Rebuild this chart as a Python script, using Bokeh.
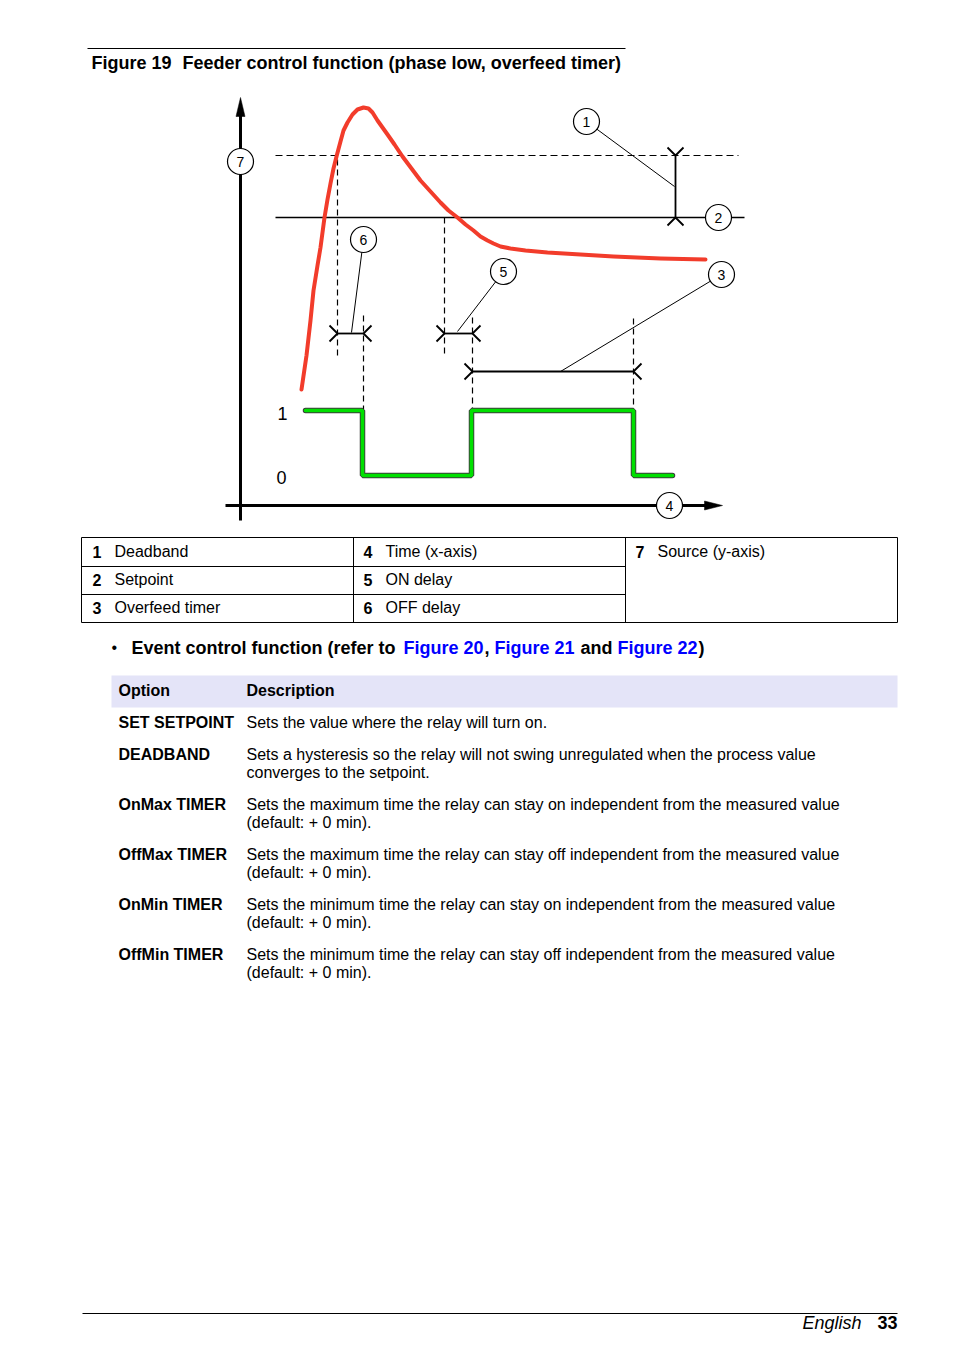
from bokeh.plotting import figure
from bokeh.models import Range1d
from bokeh.core.properties import value
from bokeh.embed import file_html
from bokeh.resources import INLINE

FONT = "Liberation Sans"

# ---------------- diagram data (page pixel coordinates) ----------------
# process value (red curve)
pv_x = [301, 306, 310, 313, 317, 320, 324, 327, 330, 333, 336, 340, 343, 347, 352, 357, 363,
        368, 372, 377, 382, 387, 394, 402, 411, 420, 430, 440, 448, 457, 465, 473, 480, 487,
        493, 500, 510, 525, 547, 580, 613, 660, 705]
pv_y = [389, 355, 320, 290, 265, 247, 217, 199, 183, 168, 156, 141, 130, 122, 114, 109, 107,
        108, 112, 120, 127, 134, 144, 156, 168, 180, 191, 202, 210, 217, 224, 230, 236, 240,
        243, 246, 248, 250, 252, 254, 256, 258, 259]
# relay state (green)
relay_x = [305, 362, 362, 471, 471, 633, 633, 672]
relay_y = [410, 410, 475, 475, 410, 410, 475, 475]
relay_levels = ["1", "0"]
relay_level_x = [277, 276]
relay_level_y = [413, 477]

# reference lines
deadband_line = (275, 738, 155)
setpoint_line = (275, 744, 217)
# vertical dashed guides (x, y0, y1)
guide_x = [337, 363, 444, 472, 633]
guide_y0 = [159, 315, 217, 317, 318]
guide_y1 = [358, 410, 355, 410, 410]
# horizontal dimensions (x0, x1, y): OFF delay, ON delay, overfeed timer
dim_x0 = [337, 444, 472]
dim_x1 = [363, 472, 633]
dim_y = [333, 333, 371]
# vertical deadband dimension (x, y0, y1)
vdim = (675, 155, 217)

# callouts
callout_num = ["1", "2", "3", "4", "5", "6", "7"]
callout_x = [586, 718, 721, 669, 503, 363, 240]
callout_y = [121, 217, 274, 505, 271, 239, 161]
leader_from = ["1", "3", "5", "6"]
leader_to_x = [674, 560, 457, 351]
leader_to_y = [186, 371, 331, 332]

# axes
y_axis = (240, 114, 520)
x_axis = (225, 705, 505)

# ---------------- text data ----------------
title_parts = ["Figure 19", "Feeder control function (phase low, overfeed timer)"]
title_x = [91, 182]

legend_nums = ["1", "2", "3", "4", "5", "6", "7"]
legend_labels = ["Deadband", "Setpoint", "Overfeed timer", "Time (x-axis)", "ON delay",
                 "OFF delay", "Source (y-axis)"]
legend_x = [92, 92, 92, 363, 363, 363, 635]
legend_y = [551, 579, 607, 551, 579, 607, 551]

event_parts = ["Event control function (refer to", "Figure 20", ",", "Figure 21", "and",
               "Figure 22", ")"]
event_x = [131, 403, 484, 494, 580, 617, 698]
event_color = ["black", "#0000ff", "black", "#0000ff", "black", "#0000ff", "black"]

options = ["SET SETPOINT", "DEADBAND", "OnMax TIMER", "OffMax TIMER", "OnMin TIMER",
           "OffMin TIMER"]
descriptions = [
    ["Sets the value where the relay will turn on."],
    ["Sets a hysteresis so the relay will not swing unregulated when the process value",
     "converges to the setpoint."],
    ["Sets the maximum time the relay can stay on independent from the measured value",
     "(default: + 0 min)."],
    ["Sets the maximum time the relay can stay off independent from the measured value",
     "(default: + 0 min)."],
    ["Sets the minimum time the relay can stay on independent from the measured value",
     "(default: + 0 min)."],
    ["Sets the minimum time the relay can stay off independent from the measured value",
     "(default: + 0 min)."],
]
option_y = [722, 754, 804, 854, 904, 954]

# ---------------- figure ----------------
p = figure(width=938, height=1338, x_range=Range1d(0, 938), y_range=Range1d(1338, 0),
           output_backend="svg", toolbar_location=None, min_border=0,
           x_axis_type=None, y_axis_type=None)
p.grid.visible = False
p.outline_line_color = None
p.background_fill_color = "white"
p.border_fill_color = "white"

def txt(x, y, t, size="16px", style="normal", align="left", color="black"):
    p.text(x=x, y=y, text=t, text_font=value(FONT), text_font_size=size,
           text_font_style=style, text_align=align, text_baseline="middle", text_color=color)

# title with rule
p.segment(x0=[87], y0=[48], x1=[625], y1=[48], line_color="black", line_width=1)
txt(title_x, [62, 62], title_parts, size="18px", style="bold")

# reference lines
p.segment(x0=[deadband_line[0]], y0=[deadband_line[2]], x1=[deadband_line[1]], y1=[deadband_line[2]],
          line_color="black", line_width=1.2, line_dash="7 4")
p.segment(x0=[setpoint_line[0]], y0=[setpoint_line[2]], x1=[setpoint_line[1]], y1=[setpoint_line[2]],
          line_color="black", line_width=1.3)
p.segment(x0=guide_x, y0=guide_y0, x1=guide_x, y1=guide_y1, line_color="black",
          line_width=1.2, line_dash="6 4")

# dimension lines
A = 8
p.segment(x0=dim_x0, y0=dim_y, x1=dim_x1, y1=dim_y, line_color="black", line_width=1.8)
arm_xs, arm_ys = [], []
for x0, x1, y in zip(dim_x0, dim_x1, dim_y):
    arm_xs.append([x0 - A, x0, x0 - A]); arm_ys.append([y - A, y, y + A])
    arm_xs.append([x1 + A, x1, x1 + A]); arm_ys.append([y - A, y, y + A])
vx, vy0, vy1 = vdim
p.segment(x0=[vx], y0=[vy0], x1=[vx], y1=[vy1], line_color="black", line_width=1.8)
arm_xs.append([vx - A, vx, vx + A]); arm_ys.append([vy0 - A, vy0, vy0 - A])
arm_xs.append([vx - A, vx, vx + A]); arm_ys.append([vy1 + A, vy1, vy1 + A])
p.multi_line(xs=arm_xs, ys=arm_ys, line_color="black", line_width=1.8)

# leaders
idx = [callout_num.index(n) for n in leader_from]
p.segment(x0=[callout_x[i] for i in idx], y0=[callout_y[i] for i in idx],
          x1=leader_to_x, y1=leader_to_y, line_color="black", line_width=1)

# axes
p.segment(x0=[y_axis[0]], y0=[y_axis[1]], x1=[y_axis[0]], y1=[y_axis[2]], line_color="black", line_width=3)
p.segment(x0=[x_axis[0]], y0=[x_axis[2]], x1=[x_axis[1]], y1=[x_axis[2]], line_color="black", line_width=3)
p.patches(xs=[[y_axis[0], y_axis[0] - 4.5, y_axis[0] + 4.5],
              [x_axis[1] + 17, x_axis[1] - 1, x_axis[1] - 1]],
          ys=[[y_axis[1] - 17, y_axis[1] + 2, y_axis[1] + 2],
              [x_axis[2], x_axis[2] - 4.5, x_axis[2] + 4.5]],
          fill_color="black", line_color="black", line_width=0.5)

# curves
p.line(pv_x, pv_y, line_color="#f23c2b", line_width=4, line_cap="round", line_join="round")
p.line(relay_x, relay_y, line_color="#3c3c3c", line_width=5.5, line_cap="round")
p.line(relay_x, relay_y, line_color="#00e000", line_width=3.6, line_cap="round")
txt(relay_level_x, relay_level_y, relay_levels, size="18px")

# callout circles
p.circle(x=callout_x, y=callout_y, radius=13, fill_color="white", line_color="black", line_width=1.2)
txt(callout_x, callout_y, callout_num, size="14px", align="center")

# legend table
TL, TR, TT, TB = 81, 897, 537, 622
C1, C2 = 353, 625
R1, R2 = 566, 594
p.multi_line(xs=[[TL, TR, TR, TL, TL], [C1, C1], [C2, C2], [TL, C2], [TL, C2]],
             ys=[[TT, TT, TB, TB, TT], [TT, TB], [TT, TB], [R1, R1], [R2, R2]],
             line_color="black", line_width=1)
txt(legend_x, legend_y, legend_nums, style="bold")
txt([x + 22 for x in legend_x], legend_y, legend_labels)

# event line
txt([111], [647], ["\u2022"], size="16px")
for part, x, c in zip(event_parts, event_x, event_color):
    txt([x], [647], [part], size="18px", style="bold", color=c)

# options table
p.quad(left=[111], right=[897], top=[675], bottom=[707], fill_color="#e4e4f8", line_color=None)
txt([118], [690], ["Option"], style="bold")
txt([246], [690], ["Description"], style="bold")
txt([118] * len(options), option_y, options, style="bold")
dx, dy, dt = [], [], []
for y, lines in zip(option_y, descriptions):
    for k, line in enumerate(lines):
        dx.append(246); dy.append(y + 18 * k); dt.append(line)
txt(dx, dy, dt)

# footer
p.segment(x0=[82], y0=[1313], x1=[897], y1=[1313], line_color="black", line_width=1)
txt([861], [1322], ["English"], size="18px", style="italic", align="right")
txt([897], [1322], ["33"], size="18px", style="bold", align="right")

open("out.html", "w").write(file_html(p, INLINE))
